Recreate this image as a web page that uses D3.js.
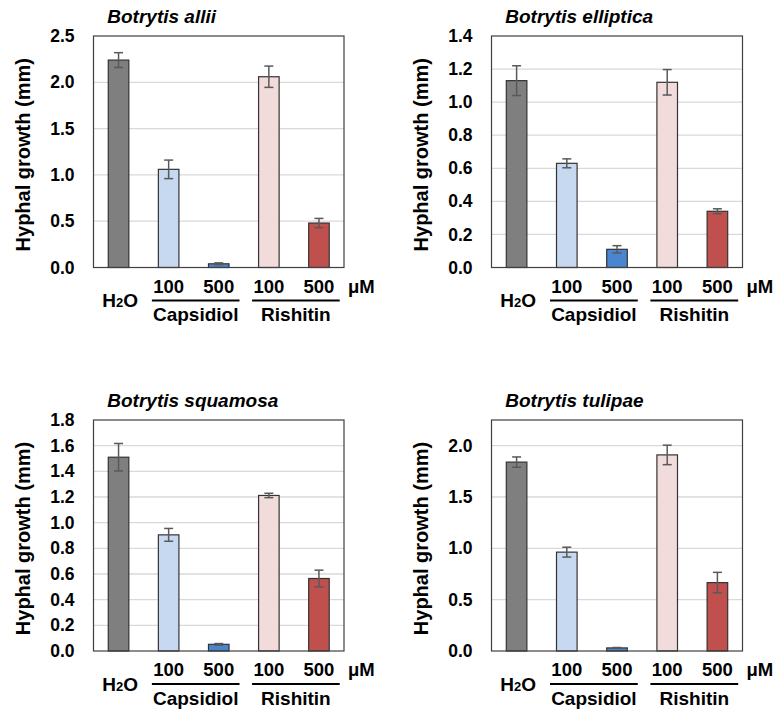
<!DOCTYPE html>
<html>
<head>
<meta charset="utf-8">
<script src="https://cdn.jsdelivr.net/npm/d3@7/dist/d3.min.js"></script>
<style>
  html, body { margin: 0; padding: 0; background: #fff; }
  svg { display: block; font-family: "Liberation Sans", Arial, sans-serif; }
</style>
</head>
<body>
<svg id="chart" width="776" height="711"></svg>
<script>
// Treatments (bar order), dose labels and compound groups
const categories = ["H2O", "Capsidiol 100", "Capsidiol 500", "Rishitin 100", "Rishitin 500"];
const doseLabels = ["", "100", "500", "100", "500"];
const compoundGroups = ["Capsidiol", "Rishitin"];
const doseUnit = "μM";
const yTitle = "Hyphal growth (mm)";

const speciesNames = ["Botrytis allii", "Botrytis elliptica", "Botrytis squamosa", "Botrytis tulipae"];

// Mean hyphal growth (mm) and error (mm) per treatment
const alliiMean     = [2.24, 1.06, 0.04, 2.06, 0.48];
const alliiErr      = [0.08, 0.10, 0.01, 0.115, 0.05];
const ellipticaMean = [1.13, 0.63, 0.11, 1.12, 0.34];
const ellipticaErr  = [0.09, 0.027, 0.022, 0.077, 0.015];
const squamosaMean  = [1.51, 0.905, 0.052, 1.212, 0.565];
const squamosaErr   = [0.107, 0.05, 0.006, 0.017, 0.065];
const tulipaeMean   = [1.84, 0.963, 0.03, 1.91, 0.666];
const tulipaeErr    = [0.05, 0.048, 0.004, 0.095, 0.1];

// Y axis extents and tick steps per species
const yMaxValues = [2.5, 1.4, 1.8, 2.25];
const yTickSteps = [0.5, 0.2, 0.2, 0.5];

const means = [alliiMean, ellipticaMean, squamosaMean, tulipaeMean];
const errs = [alliiErr, ellipticaErr, squamosaErr, tulipaeErr];

// Panel placement (plot box corners)
const layout = [
  { left: 93.5,  right: 344,   top: 36,  bottom: 267.5 },
  { left: 491.5, right: 742.5, top: 36,  bottom: 267.5 },
  { left: 93.5,  right: 344,   top: 420, bottom: 651 },
  { left: 491.5, right: 742.5, top: 420, bottom: 651 }
];

const barColors = ["#7f7f7f", "#c6d9f1", "#4a86d0", "#f2dcdb", "#c0504d"];
const FONT_BOLD = 700;

const svg = d3.select("#chart");

speciesNames.forEach((name, i) => {
  const L = layout[i];
  const g = svg.append("g");

  const x = d3.scaleBand()
    .domain(categories)
    .range([L.left, L.right])
    .paddingInner(0.59)
    .paddingOuter(0.295);

  const y = d3.scaleLinear()
    .domain([0, yMaxValues[i]])
    .range([L.bottom, L.top]);

  const ticks = d3.range(0, yMaxValues[i] + 1e-9, yTickSteps[i]);

  // horizontal gridlines
  g.append("g")
    .selectAll("line")
    .data(ticks.filter(t => t > 0 && t < yMaxValues[i] - 1e-9))
    .join("line")
    .attr("x1", L.left).attr("x2", L.right)
    .attr("y1", d => y(d)).attr("y2", d => y(d))
    .attr("stroke", "#d9d9d9")
    .attr("stroke-width", 1.3);

  // y tick labels
  const axis = g.append("g")
    .attr("transform", `translate(${L.left},0)`)
    .call(d3.axisLeft(y).tickValues(ticks).tickFormat(d3.format(".1f")).tickSize(0).tickPadding(19));
  axis.select(".domain").remove();
  axis.selectAll("text")
    .attr("font-size", 17.5)
    .attr("font-weight", FONT_BOLD)
    .attr("fill", "#000")
    .attr("font-family", "'Liberation Sans', Arial, sans-serif");

  // bars
  const rows = categories.map((c, k) => ({ cat: c, v: means[i][k], e: errs[i][k], color: barColors[k] }));
  g.append("g")
    .selectAll("rect")
    .data(rows)
    .join("rect")
    .attr("x", d => x(d.cat))
    .attr("y", d => y(d.v))
    .attr("width", x.bandwidth())
    .attr("height", d => y(0) - y(d.v))
    .attr("fill", d => d.color)
    .attr("stroke", "#333")
    .attr("stroke-width", 1.2);

  // error bars
  const eb = g.append("g").attr("stroke", "#595959").attr("stroke-width", 1.5).attr("fill", "none");
  const cap = 4.5;
  rows.forEach(d => {
    const cx = x(d.cat) + x.bandwidth() / 2;
    eb.append("line").attr("x1", cx).attr("x2", cx).attr("y1", y(d.v + d.e)).attr("y2", y(d.v - d.e));
    eb.append("line").attr("x1", cx - cap).attr("x2", cx + cap).attr("y1", y(d.v + d.e)).attr("y2", y(d.v + d.e));
    eb.append("line").attr("x1", cx - cap).attr("x2", cx + cap).attr("y1", y(d.v - d.e)).attr("y2", y(d.v - d.e));
  });

  // plot frame
  g.append("rect")
    .attr("x", L.left).attr("y", L.top)
    .attr("width", L.right - L.left).attr("height", L.bottom - L.top)
    .attr("fill", "none")
    .attr("stroke", "#404040")
    .attr("stroke-width", 1.2);

  // species title
  g.append("text")
    .attr("x", x(categories[0]) - 1)
    .attr("y", L.top - 13)
    .attr("font-size", 19)
    .attr("font-weight", FONT_BOLD)
    .attr("font-style", "italic")
    .text(name);

  // y axis title
  g.append("text")
    .attr("transform", `translate(${L.left - 64},${(L.top + L.bottom) / 2 + 3}) rotate(-90)`)
    .attr("text-anchor", "middle")
    .attr("font-size", 20)
    .attr("font-weight", FONT_BOLD)
    .text(yTitle);

  // dose labels
  g.append("g")
    .selectAll("text")
    .data(categories.map((c, k) => ({ c, label: doseLabels[k] })).filter(d => d.label))
    .join("text")
    .attr("x", d => x(d.c) + x.bandwidth() / 2)
    .attr("y", L.bottom + 25)
    .attr("text-anchor", "middle")
    .attr("font-size", 18.5)
    .attr("font-weight", FONT_BOLD)
    .text(d => d.label);

  // unit
  g.append("text")
    .attr("x", L.right + 4)
    .attr("y", L.bottom + 25)
    .attr("font-size", 18.5)
    .attr("font-weight", FONT_BOLD)
    .text(doseUnit);

  // H2O control label
  const h2o = g.append("text")
    .attr("x", x(categories[0]) + x.bandwidth() / 2 + 1.5)
    .attr("y", L.bottom + 39.5)
    .attr("text-anchor", "middle")
    .attr("font-size", 19)
    .attr("font-weight", FONT_BOLD);
  h2o.append("tspan").text("H");
  h2o.append("tspan").attr("font-size", 13).text("2");
  h2o.append("tspan").text("O");

  // compound group brackets and names
  compoundGroups.forEach((grp, gi) => {
    const c0 = categories[1 + gi * 2], c1 = categories[2 + gi * 2];
    const x0 = x(c0) - 6.5, x1 = x(c1) + x.bandwidth() + 10.5;
    g.append("line")
      .attr("x1", x0).attr("x2", x1)
      .attr("y1", L.bottom + 33).attr("y2", L.bottom + 33)
      .attr("stroke", "#000").attr("stroke-width", 2);
    g.append("text")
      .attr("x", (x0 + x1) / 2)
      .attr("y", L.bottom + 53.5)
      .attr("text-anchor", "middle")
      .attr("font-size", 19)
      .attr("font-weight", FONT_BOLD)
      .text(grp);
  });
});
</script>
</body>
</html>
